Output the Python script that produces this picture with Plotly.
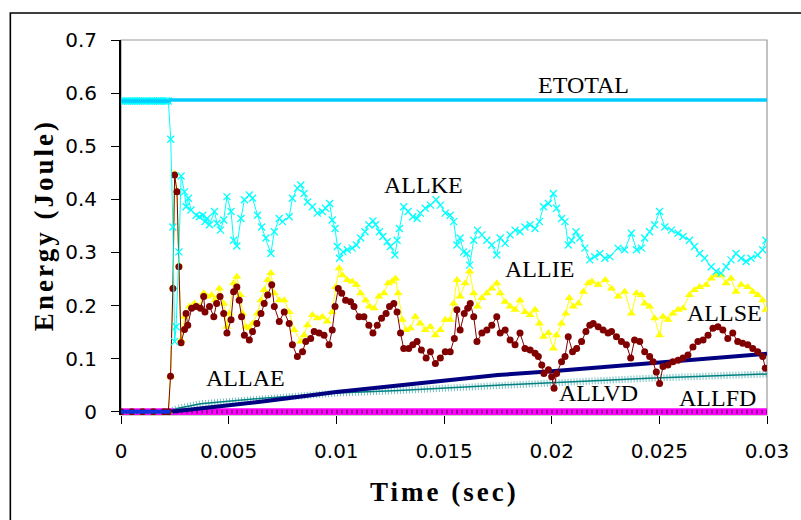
import numpy as np
import plotly.graph_objects as go

# ---------------- data (time in ms, energy in Joule) ----------------
x_tick_vals = [0, 0.005, 0.01, 0.015, 0.02, 0.025, 0.03]
y_tick_vals = [0, 0.1, 0.2, 0.3, 0.4, 0.5, 0.6, 0.7]

etotal_points = [(0.0, 0.585), (2.25, 0.585), (2.3, 0.587), (30.1, 0.587)]

ke_points = [
    (0.0, 0.585), (0.1, 0.585), (0.2, 0.585), (0.3, 0.585), (0.4, 0.585), (0.5, 0.585),
    (0.6, 0.585), (0.7, 0.585), (0.8, 0.585), (0.9, 0.585), (1.0, 0.585), (1.1, 0.585),
    (1.2, 0.585), (1.3, 0.585), (1.4, 0.585), (1.5, 0.585), (1.6, 0.585), (1.7, 0.585),
    (1.8, 0.585), (1.9, 0.585), (2.0, 0.585), (2.1, 0.585), (2.2, 0.585),
    (2.31, 0.513), (2.41, 0.348), (2.49, 0.132), (2.56, 0.160), (2.69, 0.301), (2.79, 0.444),
    (2.95, 0.414), (3.02, 0.386), (3.13, 0.402), (3.25, 0.380), (3.49, 0.370), (3.64, 0.367),
    (3.80, 0.370), (3.90, 0.358), (4.00, 0.364), (4.11, 0.352), (4.34, 0.377), (4.46, 0.355),
    (4.62, 0.342), (4.77, 0.361), (4.92, 0.405), (5.11, 0.377), (5.23, 0.323), (5.38, 0.312),
    (5.57, 0.364), (5.73, 0.399), (5.96, 0.408), (6.11, 0.402), (6.34, 0.370), (6.53, 0.348),
    (6.73, 0.327), (6.96, 0.298), (7.12, 0.339), (7.35, 0.364), (7.50, 0.358), (7.81, 0.367),
    (7.96, 0.402), (8.19, 0.421), (8.35, 0.427), (8.50, 0.411), (8.66, 0.395), (8.89, 0.386),
    (9.12, 0.374), (9.35, 0.377), (9.50, 0.383), (9.69, 0.392), (9.81, 0.361), (9.94, 0.345),
    (10.05, 0.311), (10.15, 0.289), (10.31, 0.301), (10.51, 0.305), (10.74, 0.308), (10.93, 0.314),
    (11.13, 0.327), (11.33, 0.339), (11.51, 0.352), (11.70, 0.359), (11.82, 0.352), (12.00, 0.339),
    (12.16, 0.330), (12.36, 0.320), (12.51, 0.311), (12.72, 0.295), (12.82, 0.323), (12.93, 0.345),
    (13.13, 0.386), (13.33, 0.377), (13.55, 0.367), (13.75, 0.364), (13.90, 0.374), (14.13, 0.383),
    (14.37, 0.389), (14.63, 0.399), (14.83, 0.389), (15.06, 0.374), (15.29, 0.370), (15.45, 0.358),
    (15.60, 0.314), (15.75, 0.327), (15.91, 0.301), (16.06, 0.298), (16.19, 0.276), (16.38, 0.323),
    (16.56, 0.342), (16.76, 0.333), (16.99, 0.323), (17.22, 0.314), (17.45, 0.295), (17.61, 0.327),
    (17.84, 0.317), (18.07, 0.333), (18.30, 0.342), (18.53, 0.339), (18.76, 0.348), (19.00, 0.352),
    (19.23, 0.345), (19.43, 0.358), (19.62, 0.386), (19.85, 0.392), (20.08, 0.411), (20.23, 0.383),
    (20.46, 0.364), (20.62, 0.358), (20.77, 0.314), (20.93, 0.323), (21.13, 0.339), (21.31, 0.327),
    (21.54, 0.308), (21.77, 0.286), (22.00, 0.292), (22.24, 0.298), (22.47, 0.289), (22.70, 0.292),
    (23.08, 0.308), (23.39, 0.305), (23.70, 0.336), (23.94, 0.305), (24.17, 0.308), (24.32, 0.327),
    (24.55, 0.339), (24.78, 0.352), (25.01, 0.377), (25.25, 0.348), (25.56, 0.342), (25.87, 0.336),
    (26.10, 0.330), (26.40, 0.323), (26.63, 0.311), (26.87, 0.298), (27.10, 0.289), (27.41, 0.273),
    (27.64, 0.264), (27.87, 0.261), (28.10, 0.273), (28.33, 0.286), (28.56, 0.298), (28.80, 0.289),
    (29.03, 0.283), (29.26, 0.289), (29.57, 0.295), (29.80, 0.305), (29.95, 0.323),
]

ie_points = [
    (0.0, 0.0), (0.5, 0.0), (1.0, 0.0), (1.5, 0.0), (2.0, 0.0), (2.2, 0.0),
    (2.30, 0.067), (2.41, 0.235), (2.49, 0.448), (2.60, 0.416), (2.69, 0.276), (2.79, 0.135),
    (2.95, 0.179), (3.18, 0.198), (3.41, 0.204), (3.64, 0.198), (3.84, 0.223), (4.00, 0.217),
    (4.21, 0.220), (4.37, 0.210), (4.57, 0.232), (4.77, 0.204), (4.91, 0.160), (5.03, 0.185),
    (5.23, 0.242), (5.38, 0.254), (5.54, 0.220), (5.65, 0.185), (5.80, 0.160), (5.96, 0.157),
    (6.11, 0.166), (6.34, 0.185), (6.50, 0.210), (6.65, 0.229), (6.81, 0.248), (6.96, 0.261),
    (7.12, 0.223), (7.35, 0.210), (7.58, 0.210), (7.81, 0.188), (8.04, 0.154), (8.35, 0.132),
    (8.50, 0.144), (8.66, 0.163), (8.89, 0.182), (9.12, 0.176), (9.35, 0.179), (9.58, 0.170),
    (9.81, 0.188), (9.97, 0.235), (10.13, 0.270), (10.28, 0.257), (10.51, 0.248), (10.74, 0.245),
    (10.93, 0.239), (11.13, 0.223), (11.36, 0.210), (11.54, 0.198), (11.75, 0.195), (11.98, 0.217),
    (12.21, 0.223), (12.41, 0.242), (12.59, 0.245), (12.75, 0.251), (12.87, 0.223), (13.06, 0.173),
    (13.24, 0.154), (13.44, 0.157), (13.67, 0.179), (13.90, 0.166), (14.13, 0.154), (14.37, 0.160),
    (14.60, 0.144), (14.83, 0.154), (15.06, 0.173), (15.29, 0.173), (15.45, 0.204), (15.60, 0.248),
    (15.75, 0.217), (15.99, 0.242), (16.19, 0.264), (16.38, 0.223), (16.56, 0.198), (16.76, 0.214),
    (16.99, 0.223), (17.22, 0.232), (17.45, 0.242), (17.61, 0.223), (17.84, 0.207), (18.07, 0.198),
    (18.30, 0.192), (18.53, 0.210), (18.76, 0.188), (19.00, 0.182), (19.23, 0.192), (19.43, 0.166),
    (19.62, 0.141), (19.85, 0.148), (20.08, 0.119), (20.23, 0.144), (20.46, 0.166), (20.66, 0.185),
    (20.82, 0.214), (21.00, 0.198), (21.24, 0.204), (21.47, 0.226), (21.70, 0.242), (21.87, 0.245),
    (22.16, 0.239), (22.49, 0.248), (22.78, 0.232), (23.09, 0.217), (23.39, 0.226), (23.70, 0.185),
    (23.94, 0.223), (24.17, 0.220), (24.32, 0.204), (24.55, 0.198), (24.78, 0.176), (25.01, 0.144),
    (25.17, 0.179), (25.40, 0.173), (25.63, 0.185), (25.87, 0.192), (26.10, 0.195), (26.40, 0.220),
    (26.63, 0.229), (26.87, 0.235), (27.18, 0.239), (27.41, 0.251), (27.64, 0.257), (27.87, 0.257),
    (28.10, 0.242), (28.33, 0.251), (28.56, 0.226), (28.80, 0.239), (29.11, 0.235), (29.34, 0.226),
    (29.57, 0.220), (29.80, 0.210), (29.95, 0.192),
]

se_points = [
    (0.0, 0.0), (0.5, 0.0), (1.0, 0.0), (1.5, 0.0), (2.0, 0.0), (2.2, 0.0),
    (2.30, 0.067), (2.41, 0.232), (2.49, 0.446), (2.60, 0.414), (2.69, 0.273), (2.79, 0.130),
    (2.95, 0.155), (3.02, 0.185), (3.10, 0.163), (3.28, 0.195), (3.49, 0.198), (3.69, 0.195),
    (3.84, 0.217), (3.90, 0.188), (4.11, 0.198), (4.31, 0.179), (4.44, 0.204), (4.60, 0.217),
    (4.77, 0.185), (4.92, 0.148), (5.11, 0.173), (5.23, 0.226), (5.38, 0.235), (5.49, 0.210),
    (5.60, 0.179), (5.73, 0.144), (5.96, 0.135), (6.11, 0.151), (6.31, 0.166), (6.50, 0.185),
    (6.65, 0.204), (6.81, 0.220), (7.00, 0.239), (7.12, 0.198), (7.35, 0.170), (7.58, 0.188),
    (7.81, 0.166), (7.96, 0.126), (8.19, 0.104), (8.43, 0.113), (8.58, 0.132), (8.81, 0.138),
    (8.97, 0.151), (9.20, 0.148), (9.43, 0.144), (9.66, 0.126), (9.81, 0.154), (9.94, 0.198),
    (10.09, 0.232), (10.25, 0.223), (10.43, 0.210), (10.66, 0.207), (10.82, 0.198), (11.05, 0.179),
    (11.28, 0.179), (11.51, 0.163), (11.70, 0.148), (11.90, 0.163), (12.10, 0.176), (12.31, 0.185),
    (12.47, 0.198), (12.67, 0.204), (12.82, 0.188), (12.98, 0.148), (13.13, 0.119), (13.36, 0.119),
    (13.55, 0.126), (13.75, 0.132), (13.95, 0.116), (14.17, 0.101), (14.37, 0.113), (14.60, 0.091),
    (14.83, 0.101), (15.06, 0.113), (15.29, 0.113), (15.48, 0.138), (15.60, 0.192), (15.75, 0.154),
    (15.94, 0.185), (16.10, 0.195), (16.22, 0.204), (16.38, 0.179), (16.53, 0.132), (16.76, 0.148),
    (16.99, 0.154), (17.22, 0.163), (17.45, 0.179), (17.61, 0.148), (17.84, 0.154), (18.07, 0.135),
    (18.30, 0.126), (18.53, 0.148), (18.76, 0.119), (19.00, 0.116), (19.23, 0.110), (19.38, 0.104),
    (19.54, 0.088), (19.64, 0.072), (19.85, 0.079), (20.00, 0.066), (20.11, 0.044), (20.23, 0.072),
    (20.46, 0.094), (20.62, 0.104), (20.77, 0.141), (20.97, 0.113), (21.16, 0.119), (21.39, 0.132),
    (21.59, 0.151), (21.77, 0.163), (21.93, 0.166), (22.16, 0.160), (22.39, 0.154), (22.62, 0.148),
    (22.78, 0.151), (23.01, 0.141), (23.24, 0.132), (23.47, 0.126), (23.67, 0.101), (23.85, 0.135),
    (24.09, 0.132), (24.32, 0.113), (24.55, 0.104), (24.71, 0.094), (24.86, 0.075), (25.01, 0.053),
    (25.17, 0.085), (25.40, 0.088), (25.63, 0.094), (25.87, 0.097), (26.10, 0.101), (26.33, 0.107),
    (26.56, 0.122), (26.79, 0.132), (27.03, 0.135), (27.26, 0.144), (27.49, 0.157), (27.72, 0.160),
    (27.95, 0.154), (28.18, 0.138), (28.41, 0.148), (28.64, 0.132), (28.87, 0.129), (29.11, 0.126),
    (29.34, 0.119), (29.57, 0.113), (29.80, 0.104), (29.92, 0.082),
]

ae_points = [(0.0, 0.0), (2.3, 0.0), (3.7, 0.006), (6.75, 0.020), (10.0, 0.037), (13.0, 0.050),
             (17.5, 0.069), (20.0, 0.076), (24.5, 0.091), (28.0, 0.104), (30.0, 0.109)]

vd_points = [(2.3, 0.0), (2.6, 0.006), (3.7, 0.015), (6.75, 0.026), (10.0, 0.035), (12.9, 0.040),
             (17.5, 0.050), (24.5, 0.063), (30.0, 0.071)]

fd_points = [(0.0, 0.0), (30.1, 0.0)]

labels = [("ETOTAL", 0.02148, 0.615), ("ALLKE", 0.01407, 0.427), ("ALLIE", 0.01942, 0.269),
          ("ALLSE", 0.02801, 0.186), ("ALLAE", 0.00576, 0.0635), ("ALLVD", 0.02218, 0.0352),
          ("ALLFD", 0.02769, 0.0249)]


def split(points):
    t = np.array([p[0] for p in points]) / 1000.0
    v = np.array([p[1] for p in points])
    return t, v


fig = go.Figure()

# ALLFD (magenta, dense markers -> thick band)
t, v = split(fd_points)
fig.add_trace(go.Scatter(x=t, y=v, mode="lines", line=dict(color="#FF00FF", width=7)))
fig.add_trace(go.Scatter(x=t, y=v, mode="lines", line=dict(color="#A000A0", width=4, dash="2px,3px")))

# ALLVD (teal with + markers)
t, v = split(vd_points)
fig.add_trace(go.Scatter(x=t, y=v, mode="lines", line=dict(color="rgba(0,140,140,0.55)", width=7, dash="1px,2px")))
fig.add_trace(go.Scatter(x=t, y=v, mode="lines", line=dict(color="#008080", width=1.5)))

# ALLAE (navy, dense markers)
t_ae, v_ae = split(ae_points)
fig.add_trace(go.Scatter(x=t_ae[1:], y=v_ae[1:], mode="lines", line=dict(color="#000080", width=4)))

# ALLIE (yellow triangles)
t, v = split(ie_points)
fig.add_trace(go.Scatter(x=t, y=v, mode="lines+markers", line=dict(color="#FFFF00", width=1),
                         marker=dict(symbol="triangle-up", size=8, color="#FFFF00")))

# ALLSE (maroon circles)
t, v = split(se_points)
fig.add_trace(go.Scatter(x=t, y=v, mode="lines+markers", line=dict(color="#800000", width=1),
                         marker=dict(symbol="circle", size=7, color="#800000")))

# ALLAE zero stretch before impact (drawn bright blue on top)
fig.add_trace(go.Scatter(x=t_ae[:2], y=v_ae[:2], mode="lines", line=dict(color="#1030E0", width=4)))

# ALLKE (cyan crosses)
t, v = split(ke_points)
fig.add_trace(go.Scatter(x=t, y=v, mode="lines+markers", line=dict(color="#00FFFF", width=1),
                         marker=dict(symbol="x-thin", size=7, color="#00FFFF",
                                     line=dict(color="#00FFFF", width=1.3))))

# ETOTAL
t, v = split(etotal_points)
fig.add_trace(go.Scatter(x=t, y=v, mode="lines", line=dict(color="#00CCFF", width=3.5)))

annotations = []
for name, lx, ly in labels:
    annotations.append(dict(x=lx, y=ly, xref="x", yref="y", text=name, showarrow=False,
                            font=dict(family="Liberation Serif, Times New Roman, serif", size=24, color="black"),
                            xanchor="center", yanchor="middle"))

# plot area: 121..769 px horizontally, 40..415 px vertically
annotations.append(dict(x=-0.1188, y=0.507, xref="paper", yref="paper", textangle=-90,
                        text='<span style="letter-spacing:3px"><b>Energy (Joule)</b></span>',
                        showarrow=False, xanchor="center", yanchor="middle",
                        font=dict(family="Liberation Serif, Times New Roman, serif", size=27, color="black")))
annotations.append(dict(x=0.5, y=-0.2053, xref="paper", yref="paper",
                        text='<span style="letter-spacing:3px"><b>Time (sec)</b></span>',
                        showarrow=False, xanchor="center", yanchor="middle",
                        font=dict(family="Liberation Serif, Times New Roman, serif", size=27, color="black")))

fig.update_layout(
    width=801, height=520,
    margin=dict(l=121, r=32, t=40, b=105),
    paper_bgcolor="white", plot_bgcolor="white",
    showlegend=False,
    font=dict(family="DejaVu Sans, Arial, sans-serif", size=20, color="black"),
    annotations=annotations,
    shapes=[
        dict(type="rect", xref="paper", yref="paper", x0=0, y0=0, x1=1, y1=1,
             line=dict(color="#9A9A9A", width=1.2), layer="below"),
        dict(type="rect", xref="paper", yref="paper", x0=-0.1713, y0=-0.31, x1=1.06, y1=1.072,
             line=dict(color="black", width=1.6)),
    ],
)
fig.update_xaxes(range=[0, 0.03], tickvals=x_tick_vals, ticktext=[f"{v:g}" for v in x_tick_vals],
                 showgrid=False, zeroline=False, showline=False,
                 ticks="outside", ticklen=8, tickcolor="black", tickwidth=1,
                 tickfont=dict(size=20), ticklabelstandoff=10)
fig.update_yaxes(range=[-0.0062, 0.7], tickvals=y_tick_vals, ticktext=[f"{v:g}" for v in y_tick_vals],
                 showgrid=False, zeroline=False, showline=True, linecolor="black", linewidth=2,
                 ticks="outside", ticklen=8, tickcolor="black", tickwidth=1,
                 tickfont=dict(size=20), ticklabelstandoff=10)

fig.write_html("out.html", config={"displayModeBar": False})
